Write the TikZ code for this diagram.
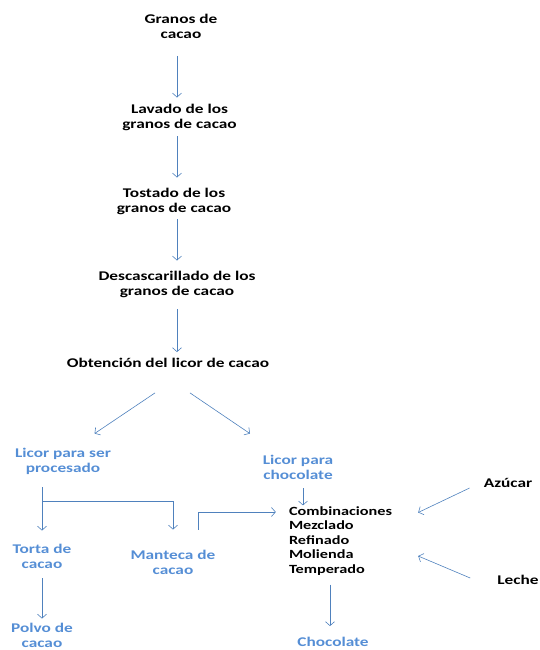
\documentclass[tikz,border=0pt]{standalone}
\usepackage{fontspec}
\setmainfont{Carlito}[FakeStretch=1.3]
\usepackage{tikz}
\usetikzlibrary{arrows.meta}
\usetikzlibrary{positioning}

\definecolor{azultexto}{RGB}{85,142,213}
\definecolor{azulflecha}{RGB}{79,129,189}

\begin{document}
\begin{tikzpicture}
		[x=1pt,y=-1pt,
		every node/.style={inner sep=0pt,align=center,font=\fontsize{13.3}{15}\selectfont\bfseries},
		sub/.style={text=azultexto},
		flecha/.style={draw=azulflecha,line width=0.6pt,-{Straight Barb[length=4pt,width=9pt]}}]
		\useasboundingbox (0,0) rectangle (539,650);
		% etapas principales
		\node (granos) at (181,26.5) {Granos de\\cacao};
		\node (lavado) at (179.5,117) {Lavado de los\\granos de cacao};
		\node (tostado) at (174,201) {Tostado de los\\granos de cacao};
		\node (descas) at (177,284) {Descascarillado de los\\granos de cacao};
		\node (obtencion) at (168,363) {Obtención del licor de cacao};
		% productos
		\node[sub] (procesado) at (63,461) {Licor para ser\\procesado};
		\node[sub] (licorchoc) at (298,467) {Licor para\\chocolate};
		\node[sub] (torta) at (42,556) {Torta de\\cacao};
		\node[sub] (manteca) at (173,562) {Manteca de\\cacao};
		\node[sub] (polvo) at (42,635) {Polvo de\\cacao};
		\node[align=left,font=\fontsize{12.5}{14.5}\selectfont\bfseries] (proceso) at (340.5,541)
			{Combinaciones\\Mezclado\\Refinado\\Molienda\\Temperado};
		\node (azucar) at (508,483) {Azúcar};
		\node (leche) at (518,580) {Leche};
		\node[sub] (chocolate) at (333,642) {Chocolate};
		
		\foreach \from/\to/\ini/\fin in
		{granos/lavado/17/6, lavado/tostado/6/10, tostado/descas/5/10, descas/obtencion/12/6}
		\draw[flecha,shorten <=\ini pt,shorten >=\fin pt] (\from.south -| 177,0) -- (\to.north -| 177,0);
		
		\draw[flecha] ([xshift=-13pt,yshift=-25pt]obtencion.south) -- ([xshift=31.5pt,yshift=14pt]procesado.north);
		\draw[flecha] ([xshift=22pt,yshift=-25pt]obtencion.south) -- ([xshift=-48pt,yshift=21pt]licorchoc.north);
		
		\coordinate (rama) at (42,501);
		\draw[flecha,shorten <=13pt,shorten >=13pt] (torta.north |- procesado.south) -- (torta.north);
		\draw[flecha,shorten >=20pt] (rama) -| (manteca.north);
		\draw[flecha,shorten <=10pt,shorten >=4pt] (torta.south) -- (polvo.north);
		
		\draw[flecha] ([xshift=25pt,yshift=20pt]manteca.north) |- ([xshift=-13pt,yshift=29pt]proceso.west);
		\draw[flecha,shorten <=9pt,shorten >=1pt] ([xshift=5pt]licorchoc.south) -- ([xshift=5pt]licorchoc.south |- proceso.north);
		\draw[flecha] ([xshift=-14pt,yshift=-5pt]azucar.west) -- ([xshift=26pt,yshift=28.5pt]proceso.east);
		\draw[flecha] ([xshift=-27pt,yshift=2pt]leche.west) -- ([xshift=26pt,yshift=-15pt]proceso.east);
		\draw[flecha,shorten <=9pt,shorten >=11pt] (proceso.south -| 330,0) -- (chocolate.north -| 330,0);
\end{tikzpicture}
\end{document}
